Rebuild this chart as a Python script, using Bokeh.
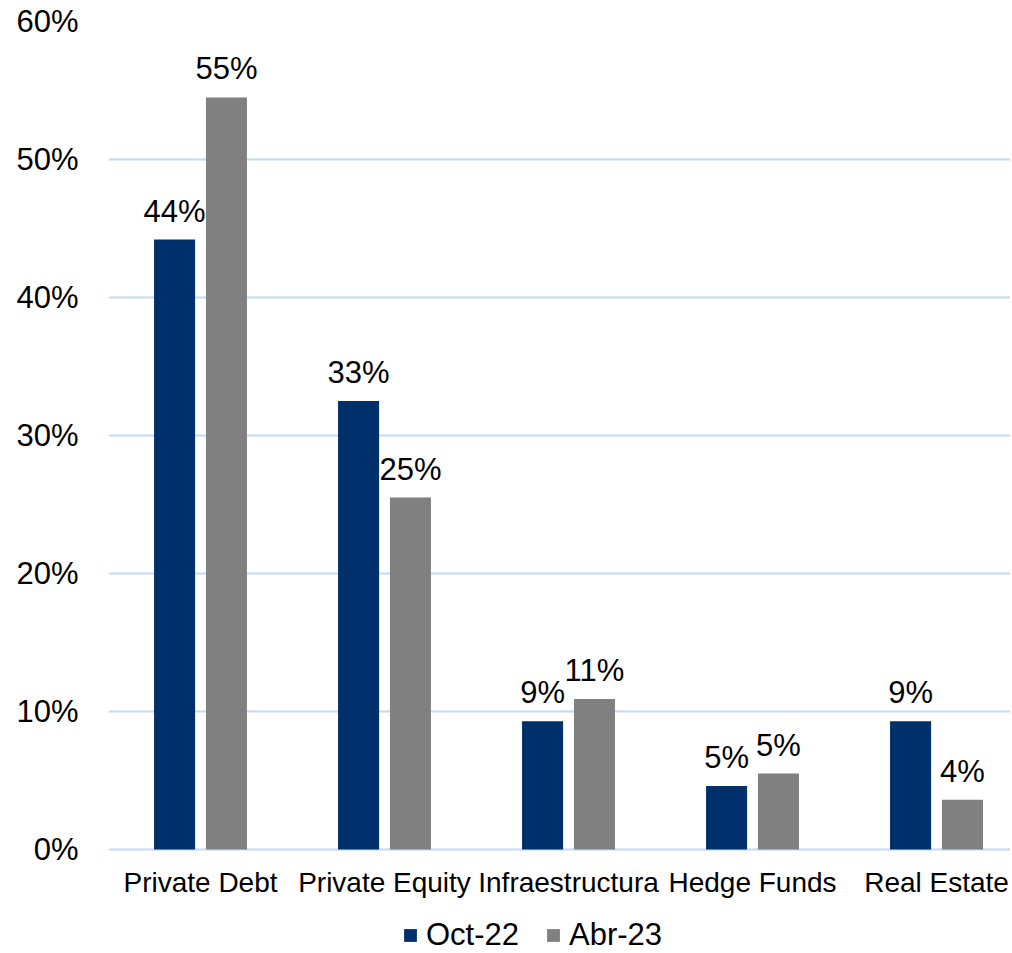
from bokeh.plotting import figure
from bokeh.models import (ColumnDataSource, Range1d, FixedTicker, LabelSet,
                          Legend, LegendItem)
from bokeh.core.properties import value
from bokeh.embed import file_html
from bokeh.resources import INLINE

categories = ["Private Debt", "Private Equity", "Infraestructura", "Hedge Funds", "Real Estate"]
oct22 = [44.2, 32.5, 9.3, 4.6, 9.3]
abr23 = [54.5, 25.5, 10.9, 5.5, 3.6]
oct22_labels = ["44%", "33%", "9%", "5%", "9%"]
abr23_labels = ["55%", "25%", "11%", "5%", "4%"]
y_ticks = [0, 10, 20, 30, 40, 50, 60]
y_tick_labels = ["0%", "10%", "20%", "30%", "40%", "50%", "60%"]

NAVY = "#00306B"
GRAY = "#808080"
GRID = "#C3DAF6"
FONT = "Liberation Sans"

centers = [i + 0.5 for i in range(len(categories))]
offset = 0.141
bw = 0.223

src_o = ColumnDataSource(dict(x=[c - offset for c in centers], top=oct22, lab=oct22_labels))
src_a = ColumnDataSource(dict(x=[c + offset for c in centers], top=abr23, lab=abr23_labels))
src_c = ColumnDataSource(dict(x=centers, y=[0] * len(centers), lab=categories))

# frame extends below the zero line to hold the category labels and legend
p = figure(frame_width=902, frame_height=932, output_backend="svg", toolbar_location=None,
           x_range=Range1d(0, 4.902), y_range=Range1d(-7.536, 60),
           min_border_left=108, min_border_right=0, min_border_top=21,
           min_border_bottom=0)
p.outline_line_color = None
p.background_fill_color = "white"
p.border_fill_color = "white"

r_o = p.vbar(x="x", top="top", width=bw, source=src_o, fill_color=NAVY, line_color=None)
r_a = p.vbar(x="x", top="top", width=bw, source=src_a, fill_color=GRAY, line_color=None)

for src in (src_o, src_a):
    ls = LabelSet(x="x", y="top", text="lab", source=src, y_offset=18,
                  text_align="center", text_baseline="alphabetic",
                  text_font=value(FONT), text_font_size=value("31px"), text_color="black")
    p.add_layout(ls)

# category labels under the zero line
cat_labels = LabelSet(x="x", y="y", text="lab", source=src_c, y_offset=-42,
                      text_align="center", text_baseline="alphabetic",
                      text_font=value(FONT), text_font_size=value("28px"), text_color="black")
p.add_layout(cat_labels)

# y axis
p.yaxis.ticker = FixedTicker(ticks=y_ticks)
p.yaxis.major_label_overrides = {t: l for t, l in zip(y_ticks, y_tick_labels)}
p.yaxis.axis_line_color = None
p.yaxis.major_tick_line_color = None
p.yaxis.minor_tick_line_color = None
p.yaxis.major_label_standoff = 24
p.yaxis.major_label_text_font = FONT
p.yaxis.major_label_text_font_size = "31px"
p.yaxis.major_label_text_color = "black"

p.xaxis.visible = False

p.xgrid.grid_line_color = None
p.ygrid.ticker = FixedTicker(ticks=y_ticks)
p.ygrid.grid_line_color = GRID
p.ygrid.grid_line_width = 2

legend = Legend(items=[LegendItem(label="Oct-22", renderers=[r_o]),
                       LegendItem(label="Abr-23", renderers=[r_a])],
                orientation="horizontal", location=(294, 0),
                label_text_font=FONT, label_text_font_size="31px",
                label_text_color="black", glyph_width=16, glyph_height=16,
                label_standoff=8, spacing=26, padding=0, margin=0,
                border_line_color=None, background_fill_alpha=0)
p.add_layout(legend, "center")

open("out.html", "w").write(file_html(p, INLINE))
